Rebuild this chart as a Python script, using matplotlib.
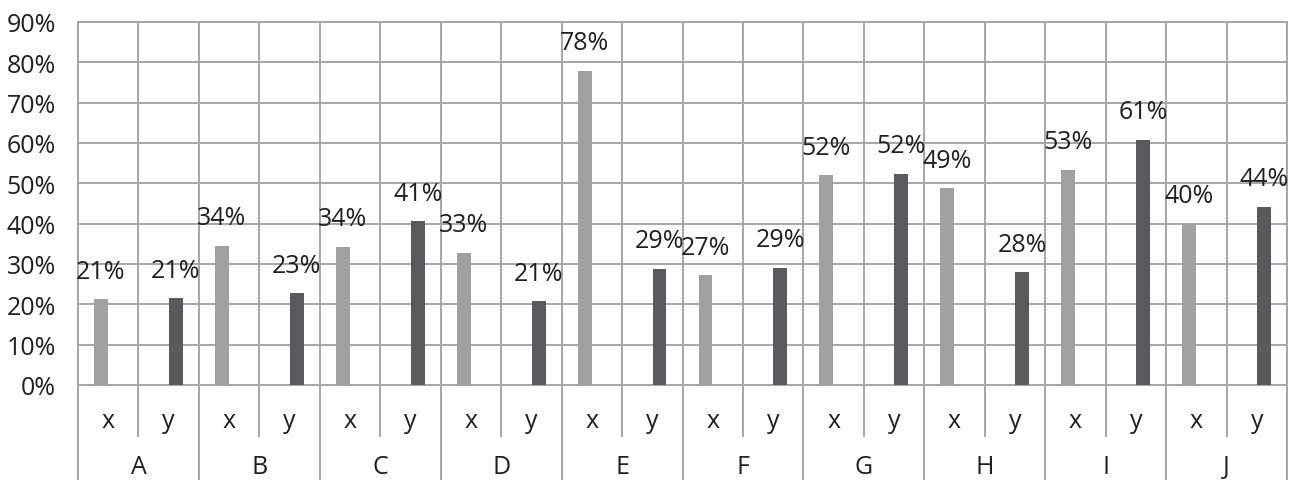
import matplotlib
matplotlib.use("Agg")
import matplotlib.pyplot as plt
import numpy as np

# values (fractions)
groups = ["A", "B", "C", "D", "E", "F", "G", "H", "I", "J"]
subcats = ["x", "y"]
x_vals = [0.213, 0.345, 0.343, 0.328, 0.779, 0.272, 0.520, 0.488, 0.534, 0.400]
y_vals = [0.215, 0.228, 0.406, 0.208, 0.288, 0.291, 0.524, 0.279, 0.608, 0.442]
x_labels = ["21%", "34%", "34%", "33%", "78%", "27%", "52%", "49%", "53%", "40%"]
y_labels = ["21%", "23%", "41%", "21%", "29%", "29%", "52%", "28%", "61%", "44%"]
y_ticks = [0, 0.1, 0.2, 0.3, 0.4, 0.5, 0.6, 0.7, 0.8, 0.9]

plt.rcParams["font.family"] = ["Open Sans", "DejaVu Sans"]
TXT = "#231f20"
GRID = "#a6a6a6"
C_X = "#a0a0a0"
C_Y = "#5a595e"
FS = 18

W, H = 1291, 481
fig = plt.figure(figsize=(W / 100, H / 100), dpi=100)
left, right, top, bottom = 78, 1287, 23, 386
ax = fig.add_axes([left / W, (H - bottom) / H, (right - left) / W, (bottom - top) / H])

n = len(groups) * 2
bw = 0.23
xs = np.arange(0, n, 2) + 0.38
ys = np.arange(1, n, 2) + 0.62
ax.bar(xs, x_vals, width=bw, color=C_X, zorder=3)
ax.bar(ys, y_vals, width=bw, color=C_Y, zorder=3)

# labels: baseline ~21px above the bar top
for pos, v, lab in list(zip(xs, x_vals, x_labels)) + list(zip(ys, y_vals, y_labels)):
    ax.annotate(lab, (pos, v), xytext=(0, 15.5), textcoords="offset points",
                ha="center", va="baseline", fontsize=FS, color=TXT, zorder=4)

ax.set_xlim(0, n)
ax.set_ylim(0, 0.9)
ax.set_yticks(y_ticks)
ax.set_yticklabels([f"{int(round(t * 100))}%" for t in y_ticks], fontsize=FS, color=TXT)
ax.set_xticks(np.arange(0, n + 1))
ax.set_xticklabels([])
ax.tick_params(axis="both", length=0)
ax.tick_params(axis="y", pad=16)
ax.grid(True, color=GRID, linewidth=1.4, zorder=0)
for sp in ax.spines.values():
    sp.set_color(GRID)
    sp.set_linewidth(1.4)

# multi-level category axis below the plot
tr = ax.get_xaxis_transform()
span = bottom - top
sub_bot = -(437 - bottom) / span
grp_bot = -(H - bottom) / span
for i in range(n + 1):
    y_end = grp_bot if i % 2 == 0 else sub_bot
    ax.plot([i, i], [0, y_end], color=GRID, linewidth=1.4, transform=tr, clip_on=False)
for i in range(n):
    ax.text(i + 0.5, -(428 - bottom) / span, subcats[i % 2], transform=tr,
            ha="center", va="baseline", fontsize=FS, color=TXT)
for g, name in enumerate(groups):
    ax.text(2 * g + 1, -(474 - bottom) / span, name, transform=tr,
            ha="center", va="baseline", fontsize=FS, color=TXT)

fig.savefig("out.png", dpi=100)
